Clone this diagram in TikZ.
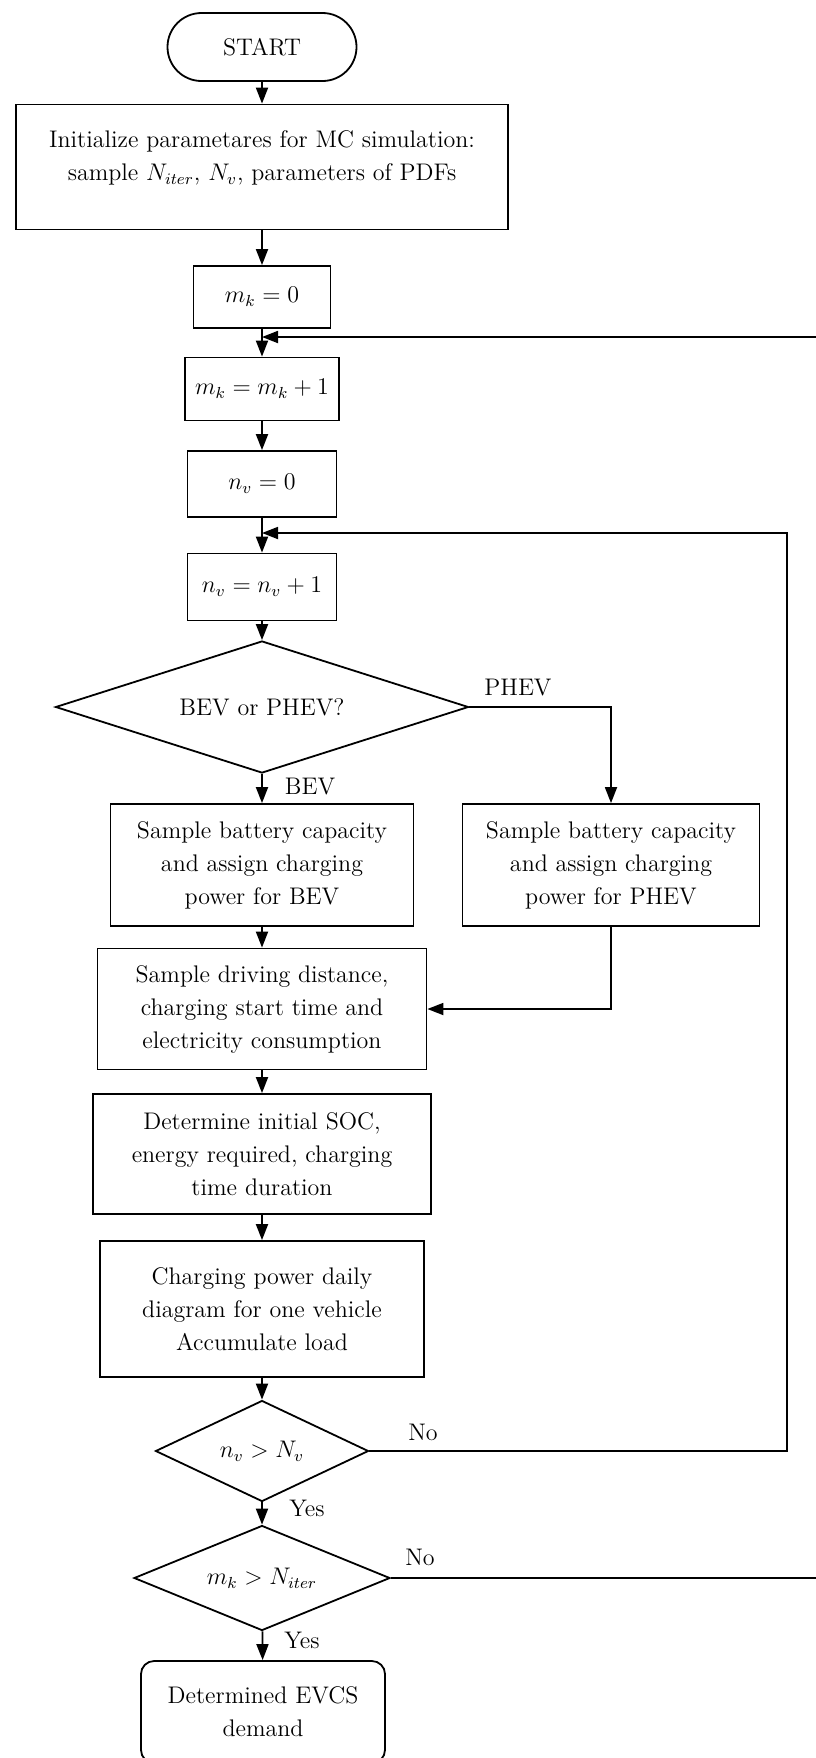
\documentclass[tikz,border=0pt]{standalone}
\usetikzlibrary{shapes.geometric,arrows.meta}
\begin{document}
\begin{tikzpicture}[x=0.5pt,y=-0.5pt,font=\fontsize{12}{16.5}\selectfont,>={Triangle[length=8pt,width=6pt]},
		proc/.style={draw,line width=0.9pt,align=center,inner sep=2pt},
		term/.style={proc,rounded corners=#1},
		dec/.style={draw,line width=0.9pt,diamond,align=center,inner sep=0pt,aspect=#1},
		flow/.style={->,line width=0.9pt}]
			\useasboundingbox (0,0) rectangle (815,1758);
			\node[term=17pt,minimum width=94.5pt,minimum height=34pt] (start) at (262,47) {START};
			\node[proc,minimum width=246pt,minimum height=62.5pt] (init) at (262,167) {};
			\node[align=center] (initTxt) at (262,158) {Initialize parametares for MC simulation:\\sample $N_{iter}$, $N_v$, parameters of PDFs};
			\node[proc,minimum width=68.5pt,minimum height=31pt] (mkzero) at (262,297) {$m_k=0$};
			\node[proc,minimum width=77pt,minimum height=31.5pt] (mkinc) at (262,389) {$m_k=m_k+1$};
			\node[proc,minimum width=74.5pt,minimum height=33pt] (nvzero) at (262,484) {$n_v=0$};
			\node[proc,minimum width=74.5pt,minimum height=33.5pt] (nvinc) at (262,587) {$n_v=n_v+1$};
			\node[dec=3.1,minimum width=206.5pt,minimum height=66pt] (type) at (262,707) {BEV or PHEV?};
			\node[proc,minimum width=151.5pt,minimum height=61pt] (bev) at (262,865) {Sample battery capacity\\and assign charging\\power for BEV};
			\node[proc,minimum width=148.5pt,minimum height=61pt] (phev) at (611,865) {Sample battery capacity\\and assign charging\\power for PHEV};
			\node[proc,minimum width=164.5pt,minimum height=60.5pt] (drive) at (262,1009) {Sample driving distance,\\charging start time and\\electricity consumption};
			\node[proc,minimum width=169pt,minimum height=60pt] (soc) at (262,1154) {Determine initial SOC,\\energy required, charging\\time duration};
			\node[proc,minimum width=162pt,minimum height=68pt] (load) at (262,1309) {Charging power daily\\diagram for one vehicle\\Accumulate load};
			\node[dec=2.1,minimum width=106.5pt,minimum height=50.5pt] (nvchk) at (262,1451) {$n_v>N_v$};
			\node[dec=2.4,minimum width=128pt,minimum height=52.5pt] (mkchk) at (262,1578) {$m_k>N_{iter}$};
			\node[term=6.5pt,minimum width=122pt,minimum height=51pt] (demand) at (263,1712) {Determined EVCS\\demand};
			\coordinate (mkloop) at (262,337);
			\coordinate (nvloop) at (262,533);
			\coordinate (nvright) at (787,533);
			\coordinate (mkright) at (860,337);
			\draw[flow] (start)--(init);
			\draw[flow] (init)--(mkzero);
			\draw[flow] (mkzero)--(mkinc);
			\draw[flow] (mkinc)--(nvzero);
			\draw[flow] (nvzero)--(nvinc);
			\draw[flow] (nvinc)--(type);
			\draw[flow] (type)--(bev);
			\draw[flow] (type.east)-|(phev.north);
			\draw[flow] (bev)--(drive);
			\draw[flow] (phev.south)|-(drive.east);
			\draw[flow] (drive)--(soc);
			\draw[flow] (soc)--(load);
			\draw[flow] (load)--(nvchk);
			\draw[flow] (nvchk)--(mkchk);
			\draw[flow] (mkchk)--(demand);
			\draw[flow] (nvchk.east)-|(nvright)--(nvloop);
			\draw[flow] (mkchk.east)-|(mkright)--(mkloop);
			\path 
			(518,688) node (lblPhev) {PHEV}
			(310,787) node (lblBev) {BEV}
			(423,1432) node (lblNoNv) {No}
			(307,1508) node (lblYesNv) {Yes}
			(420,1557) node (lblNoMk) {No}
			(302,1640) node (lblYesMk) {Yes}
			;
	\end{tikzpicture}
\end{document}
